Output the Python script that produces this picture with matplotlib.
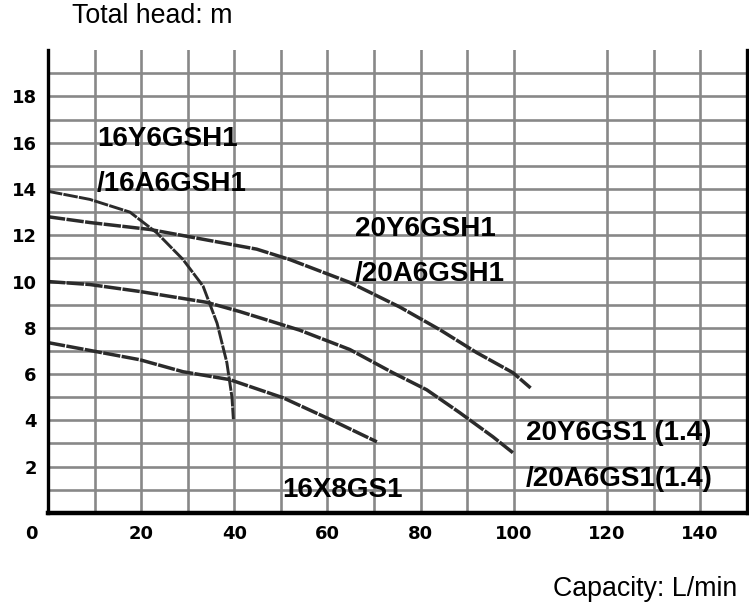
import matplotlib.pyplot as plt
from matplotlib.transforms import ScaledTranslation

# pump curves (capacity L/min, total head m)
a_q = [0, 9, 17.6, 23.4, 29, 33.3, 36.3, 38.4, 39.5, 39.8]
a_h = [13.9, 13.55, 13.0, 12.1, 10.95, 9.8, 8.2, 6.5, 5.0, 4.05]

b_q = [0, 9, 21.9, 34, 44.8, 51.9, 64.8, 75.5, 84.1, 92, 99.8, 103.6]
b_h = [12.8, 12.55, 12.25, 11.8, 11.4, 10.95, 9.96, 8.9, 7.92, 6.93, 6.06, 5.4]

c_q = [0, 9, 19.7, 34.1, 41.2, 54, 64.8, 74, 81.3, 88.4, 95.5, 99.8]
c_h = [10.0, 9.87, 9.57, 9.1, 8.7, 7.9, 7.06, 6.06, 5.32, 4.33, 3.29, 2.6]

d_q = [0, 19.7, 29, 39, 50.4, 61, 70.6]
d_h = [7.36, 6.62, 6.1, 5.76, 4.98, 4.0, 3.07]

x_ticks = [0, 20, 40, 60, 80, 100, 120, 140]
y_ticks = [2, 4, 6, 8, 10, 12, 14, 16, 18]
x_grid = [10, 20, 30, 40, 50, 60, 70, 80, 90, 100, 120, 130, 140]
y_grid = list(range(1, 20))

labels = ["16Y6GSH1", "/16A6GSH1", "20Y6GSH1", "/20A6GSH1",
          "20Y6GS1 (1.4)", "/20A6GS1(1.4)", "16X8GS1"]
label_pos = [(10.5, 15.84), (10.5, 13.9), (65.9, 11.95), (65.9, 10.04),
             (102.6, 3.16), (102.6, 1.17), (50.4, 0.69)]

plt.rcParams['font.family'] = ['Liberation Sans', 'DejaVu Sans']

fig = plt.figure(figsize=(7.49, 6.12), dpi=100)
ax = fig.add_axes([0.064, 0.162, 0.933, 0.756])
ax.set_xlim(0, 150)
ax.set_ylim(0, 20)

grid_col = '#888888'
for g in x_grid:
    ax.axvline(g, color=grid_col, lw=1.9, zorder=1)
for g in y_grid:
    ax.axhline(g, color=grid_col, lw=1.9, zorder=1)

curve_style = dict(color='#2b2b2b', lw=2.5, ls=(0, (5, 0.4)), zorder=3,
                   solid_capstyle='butt')
ax.plot(a_q, a_h, **{**curve_style, 'lw': 2.1})
ax.plot(b_q, b_h, **curve_style)
ax.plot(c_q, c_h, **curve_style)
ax.plot(d_q, d_h, **curve_style)

for txt, (x, y) in zip(labels, label_pos):
    ax.text(x, y, txt, fontsize=20, fontweight='bold', va='baseline',
            ha='left', color='black', zorder=4)

ax.spines['top'].set_visible(False)
ax.spines['left'].set_linewidth(2.4)
ax.spines['right'].set_linewidth(2.4)
ax.spines['bottom'].set_linewidth(3.2)
for s in ['left', 'right', 'bottom']:
    ax.spines[s].set_zorder(5)

ax.set_xticks(x_ticks)
ax.set_xticklabels([str(v) for v in x_ticks], fontsize=13, fontweight='bold',
                   family='DejaVu Sans')
ax.set_yticks(y_ticks)
ax.set_yticklabels([str(v) for v in y_ticks], fontsize=13, fontweight='bold',
                   family='DejaVu Sans')
ax.tick_params(length=0, pad=8)
ax.tick_params(axis='x', pad=9)
# the "0" label sits left of the axis corner
first = ax.get_xticklabels()[0]
first.set_transform(first.get_transform() + ScaledTranslation(-17 / 100, 0, fig.dpi_scale_trans))

fig.text(72 / 749, 1 - 16 / 612, "Total head: m", fontsize=19.3, va='center', ha='left')
fig.text(737 / 749, 1 - 589 / 612, "Capacity: L/min", fontsize=19.3, va='center', ha='right')

fig.savefig('out.png', dpi=100)
